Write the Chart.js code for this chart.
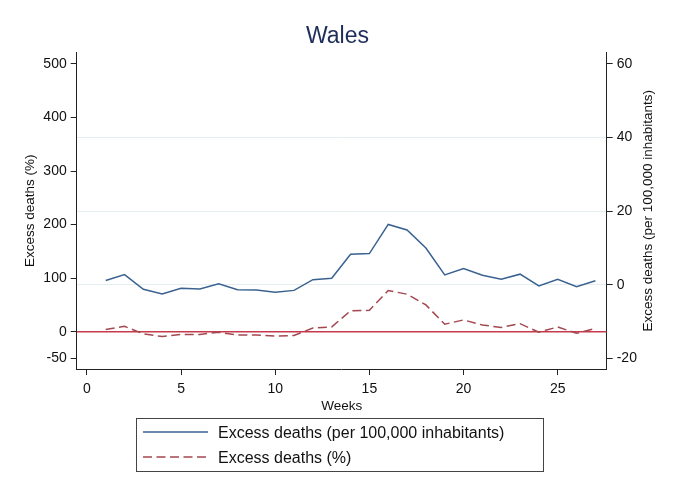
<!DOCTYPE html>
<html>
<head>
<meta charset="utf-8">
<script src="https://cdn.jsdelivr.net/npm/chart.js@4"></script>
<style>
    body { margin: 0; background: #fff; }
    #wrap { position: relative; width: 675px; height: 496px; font-family: "Liberation Sans", Arial, Helvetica, sans-serif; }
    #legend { position: absolute; left: 136px; top: 418px; width: 408px; height: 54px; border: 1px solid #444; box-sizing: border-box; }
    .row { position: absolute; left: 0; height: 20px; font-size: 16px; color: #111; }
    .row svg { position: absolute; left: 6px; top: 4px; }
    .row span { position: absolute; left: 81px; top: 0; white-space: nowrap; line-height: 20px; }
</style>
</head>
<body>
<div id="wrap">
    <canvas id="chart" width="675" height="496"></canvas>
    <div id="legend">
        <div class="row" style="top: 4px;">
            <svg width="66" height="10"><line x1="0" y1="5" x2="65" y2="5" stroke="#3a6290" stroke-width="1.5"/></svg>
            <span>Excess deaths (per 100,000 inhabitants)</span>
        </div>
        <div class="row" style="top: 29px;">
            <svg width="66" height="10"><line x1="0" y1="5" x2="65" y2="5" stroke="#a4474f" stroke-width="1.5" stroke-dasharray="9,4.5"/></svg>
            <span>Excess deaths (%)</span>
        </div>
    </div>
</div>
<script>
const COLORS = {
    blue: "#3a6290",
    maroon: "#a4474f",
    zero: "#c73a4c",
    grid: "#e4eef0",
    axis: "#222",
    title: "#1e2d5a",
};

const weeks = [1, 2, 3, 4, 5, 6, 7, 8, 9, 10, 11, 12, 13, 14, 15, 16, 17, 18, 19, 20, 21, 22, 23, 24, 25, 26, 27];
// right axis: excess deaths per 100,000
const perCapita = [1.2, 2.8, -1.2, -2.5, -0.9, -1.1, 0.3, -1.3, -1.4, -2.0, -1.5, 1.4, 1.8, 8.3, 8.5, 16.4, 14.9, 10.0, 2.7, 4.4, 2.6, 1.5, 2.9, -0.3, 1.5, -0.5, 1.1];
// left axis: excess deaths in %
const percent = [4, 10, -4, -9, -5, -5, -1, -6, -6, -8, -7, 7, 9, 39, 40, 77, 70, 50, 14, 22, 12.5, 8, 15, -1, 9, -3, 6];

const xTicks = [0, 5, 10, 15, 20, 25];
const leftTicks = [-50, 0, 100, 200, 300, 400, 500];
const rightTicks = [-20, 0, 20, 40, 60];
const rightGridAt = [0, 20, 40];

const FONT = "'Liberation Sans', Arial, Helvetica, sans-serif";
Chart.defaults.font.family = FONT;
Chart.defaults.color = "#111";

const X_MIN = -0.54, X_MAX = 27.6;

function pts(ys) {
    return weeks.map((w, i) => ({ x: w, y: ys[i] }));
}

// right axis title reads bottom-to-top like the left one
const rightTitle = {
    id: "rightTitle",
    afterDraw(chart) {
        const s = chart.scales.y2;
        const ctx = chart.ctx;
        ctx.save();
        ctx.translate(s.right - 27, (chart.chartArea.top + chart.chartArea.bottom) / 2);
        ctx.rotate(-Math.PI / 2);
        ctx.font = "13.5px " + FONT;
        ctx.fillStyle = "#111";
        ctx.textAlign = "center";
        ctx.textBaseline = "middle";
        ctx.fillText("Excess deaths (per 100,000 inhabitants)", 0, 0);
        ctx.restore();
    },
};

new Chart(document.getElementById("chart"), {
    type: "line",
    data: {
        datasets: [
            {
                label: "Excess deaths (per 100,000 inhabitants)",
                data: pts(perCapita),
                yAxisID: "y2",
                borderColor: COLORS.blue,
                borderWidth: 1.5,
                pointRadius: 0,
                tension: 0,
                order: 1,
            },
            {
                label: "Excess deaths (%)",
                data: pts(percent),
                yAxisID: "y",
                borderColor: COLORS.maroon,
                borderWidth: 1.5,
                borderDash: [9, 4.5],
                pointRadius: 0,
                tension: 0,
                order: 2,
            },
            {
                label: "zero",
                data: [{ x: X_MIN, y: 0 }, { x: X_MAX, y: 0 }],
                yAxisID: "y",
                borderColor: COLORS.zero,
                borderWidth: 1.5,
                pointRadius: 0,
                order: 3,
            },
        ],
    },
    options: {
        responsive: false,
        animation: false,
        layout: { padding: { left: 0, right: 0, top: 0, bottom: 82 } },
        plugins: {
            legend: { display: false },
            tooltip: { enabled: false },
            title: {
                display: true,
                text: "Wales",
                color: COLORS.title,
                font: { family: FONT, size: 23, weight: "normal", lineHeight: 1.2 },
                padding: { top: 23, bottom: 2 },
            },
        },
        scales: {
            x: {
                type: "linear",
                min: X_MIN,
                max: X_MAX,
                afterBuildTicks: s => { s.ticks = xTicks.map(v => ({ value: v })); },
                afterFit: s => { s.height = 45; },
                ticks: { font: { size: 14 }, color: "#111", padding: 6, maxRotation: 0 },
                grid: { drawOnChartArea: false, drawTicks: true, tickLength: 6, tickColor: COLORS.axis },
                border: { display: true, color: COLORS.axis, width: 1 },
                title: { display: true, text: "Weeks", font: { size: 13.5 }, color: "#111", padding: { top: 0, bottom: 0 } },
            },
            y: {
                position: "left",
                min: -69.6,
                max: 521.1,
                afterBuildTicks: s => { s.ticks = leftTicks.map(v => ({ value: v })); },
                afterFit: s => { s.width = 76.7; },
                ticks: { font: { size: 14 }, color: "#111", padding: 4 },
                grid: { drawOnChartArea: false, drawTicks: true, tickLength: 6, tickColor: COLORS.axis },
                border: { display: true, color: COLORS.axis, width: 1 },
                title: { display: true, text: "Excess deaths (%)", font: { size: 13.5 }, color: "#111", padding: { top: 22, bottom: 0 } },
            },
            y2: {
                position: "right",
                min: -22.85,
                max: 63.07,
                afterBuildTicks: s => { s.ticks = rightTicks.map(v => ({ value: v })); },
                afterFit: s => { s.width = 68.3; },
                ticks: { font: { size: 14 }, color: "#111", padding: 4 },
                grid: {
                    drawOnChartArea: true,
                    drawTicks: true,
                    tickLength: 6,
                    tickColor: COLORS.axis,
                    color: c => (c.tick && rightGridAt.includes(c.tick.value)) ? COLORS.grid : "rgba(0,0,0,0)",
                },
                border: { display: true, color: COLORS.axis, width: 1 },
            },
        },
    },
    plugins: [rightTitle],
});
</script>
</body>
</html>
